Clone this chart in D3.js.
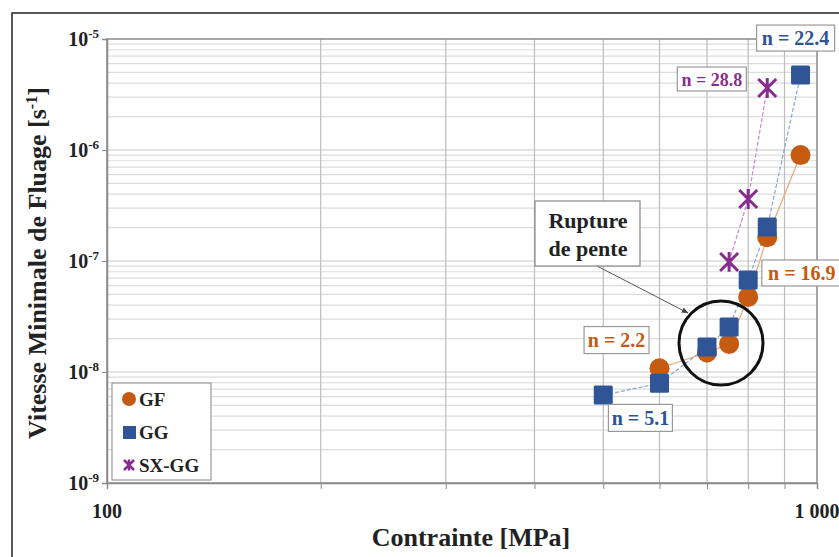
<!DOCTYPE html>
<html><head><meta charset="utf-8">
<script src="https://cdn.jsdelivr.net/npm/d3@7"></script>
<style>body{margin:0;background:#fff}svg{display:block}text{font-family:"Liberation Serif","Times New Roman",serif;font-weight:bold}</style>
</head><body><svg id="c" width="839" height="557"></svg>
<script>
// data
const gfStress = [600, 700, 752, 800, 851, 948];
const gfRate   = [1.08e-8, 1.5e-8, 1.79e-8, 4.74e-8, 1.64e-7, 9.0e-7];
const ggStress = [500, 600, 700, 752, 800, 851, 948];
const ggRate   = [6.2e-9, 7.9e-9, 1.68e-8, 2.54e-8, 6.75e-8, 2.02e-7, 4.74e-6];
const sxStress = [752, 800, 851];
const sxRate   = [9.8e-8, 3.62e-7, 3.62e-6];
const seriesNames = ["GF", "GG", "SX-GG"];
const yTickExp = [-5, -6, -7, -8, -9];
const xTickLabels = ["100", "1 000"];
const nLabels = ["n = 22.4", "n = 28.8", "n = 16.9", "n = 2.2", "n = 5.1"];
const nLabelX = [933, 711, 952, 522, 564];
const nLabelY = [1.02e-5, 4.36e-6, 7.8e-8, 1.94e-8, 3.86e-9];

const svg = d3.select("#c");
const L = 107, R = 817, T = 39, B = 483;
const x = d3.scaleLog().domain([100, 1000]).range([L, R]);
const y = d3.scaleLog().domain([1e-9, 1e-5]).range([B, T]);
const col = {GF: "#C55A11", GG: "#2F5597", SX: "#862D8E"};
const lineCol = {GF: "#EBA67A", GG: "#8AA4D6", SX: "#C689CC"};

// outer frame
svg.append("rect").attr("x", 12).attr("y", 13).attr("width", 900).attr("height", 700)
  .attr("fill", "none").attr("stroke", "#222").attr("stroke-width", 1.5);

// horizontal grid (minor)
const yGrid = [];
for (let e = -9; e < -5; e++) for (let m = 2; m <= 9; m++) yGrid.push(m * Math.pow(10, e));
svg.append("g").selectAll("line").data(yGrid).join("line")
  .attr("x1", L).attr("x2", R).attr("y1", d => y(d)).attr("y2", d => y(d))
  .attr("stroke", "#dcdcdc").attr("stroke-width", 1.2);
svg.append("g").selectAll("line").data([1e-8, 1e-7, 1e-6]).join("line")
  .attr("x1", L).attr("x2", R).attr("y1", d => y(d)).attr("y2", d => y(d))
  .attr("stroke", "#c8c8c8").attr("stroke-width", 1.2);
// vertical grid
const xGrid = [200, 300, 400, 500, 600, 700, 800, 900];
svg.append("g").selectAll("line").data(xGrid).join("line")
  .attr("x1", d => x(d)).attr("x2", d => x(d)).attr("y1", T).attr("y2", B)
  .attr("stroke", "#bdbdbd").attr("stroke-width", 1.2);

// plot frame
svg.append("rect").attr("x", L).attr("y", T).attr("width", R - L).attr("height", B - T)
  .attr("fill", "none").attr("stroke", "#8a8a8a").attr("stroke-width", 1.5);

// axes ticks
const xAxis = d3.axisBottom(x).tickValues([100, 200, 300, 400, 500, 600, 700, 800, 900, 1000])
  .tickSize(6).tickFormat("");
svg.append("g").attr("transform", `translate(0,${B})`).call(xAxis)
  .call(g => g.select(".domain").attr("stroke", "#8a8a8a").attr("stroke-width", 1.5))
  .call(g => g.selectAll(".tick line").attr("stroke", "#8a8a8a"));
const yAxis = d3.axisLeft(y).tickValues(yTickExp.map(e => Math.pow(10, e))).tickSize(5).tickFormat("");
svg.append("g").attr("transform", `translate(${L},0)`).call(yAxis)
  .call(g => g.select(".domain").attr("stroke", "#8a8a8a").attr("stroke-width", 1.5))
  .call(g => g.selectAll(".tick line").attr("stroke", "#8a8a8a"));

// y tick labels
yTickExp.forEach(e => {
  const t = svg.append("text").attr("x", 99).attr("y", y(Math.pow(10, e)) + 7)
    .attr("text-anchor", "end").attr("font-size", 20).attr("fill", "#222");
  t.append("tspan").text("10");
  t.append("tspan").attr("dy", -8).attr("font-size", 13).text(e);
});
// x tick labels
svg.append("text").attr("x", x(100)).attr("y", 518).attr("text-anchor", "middle")
  .attr("font-size", 20).attr("fill", "#222").text(xTickLabels[0]);
svg.append("text").attr("x", x(1000)).attr("y", 518).attr("text-anchor", "middle")
  .attr("font-size", 20).attr("fill", "#222").text(xTickLabels[1]);

// axis titles
svg.append("text").attr("x", 471).attr("y", 546).attr("text-anchor", "middle")
  .attr("font-size", 26).attr("fill", "#222").text("Contrainte [MPa]");
const yt = svg.append("text").attr("transform", "translate(46,263) rotate(-90)")
  .attr("text-anchor", "middle").attr("font-size", 26).attr("fill", "#222");
yt.append("tspan").text("Vitesse Minimale de Fluage [s");
yt.append("tspan").attr("dy", -9).attr("font-size", 16).text("-1");
yt.append("tspan").attr("dy", 9).text("]");

// series lines
const zip = (a, b) => a.map((v, i) => [v, b[i]]);
const line = d3.line().x(d => x(d[0])).y(d => y(d[1]));
svg.append("path").attr("d", line(zip(gfStress, gfRate))).attr("fill", "none")
  .attr("stroke", lineCol.GF).attr("stroke-width", 1.2);
svg.append("path").attr("d", line(zip(ggStress, ggRate))).attr("fill", "none")
  .attr("stroke", lineCol.GG).attr("stroke-width", 1.2).attr("stroke-dasharray", "4,2");
svg.append("path").attr("d", line(zip(sxStress, sxRate))).attr("fill", "none")
  .attr("stroke", lineCol.SX).attr("stroke-width", 1.2).attr("stroke-dasharray", "4,2");

// markers
svg.append("g").selectAll("circle").data(zip(gfStress, gfRate)).join("circle")
  .attr("cx", d => x(d[0])).attr("cy", d => y(d[1])).attr("r", 10).attr("fill", col.GF);
svg.append("g").selectAll("rect").data(zip(ggStress, ggRate)).join("rect")
  .attr("x", d => x(d[0]) - 9.5).attr("y", d => y(d[1]) - 9.5).attr("width", 19).attr("height", 19)
  .attr("rx", 1.5).attr("fill", col.GG);
const star = (g, cx, cy, s, w) => {
  g.append("path").attr("d",
    `M${cx - s},${cy - s}L${cx + s},${cy + s}M${cx - s},${cy + s}L${cx + s},${cy - s}M${cx},${cy - s * 1.1}L${cx},${cy + s * 1.1}`)
    .attr("stroke", col.SX).attr("stroke-width", w).attr("fill", "none");
};
const sg = svg.append("g");
zip(sxStress, sxRate).forEach(d => star(sg, x(d[0]), y(d[1]), 9, 3));

// n labels
const nCol = [col.GG, col.SX, col.GF, col.GF, col.GG];
const nW = [78, 69, 80, 65, 64], nH = [26, 24, 26, 27, 27], nFs = [20, 18, 20, 20, 20];
const nWeight = ["bold", "normal", "bold", "bold", "bold"];
nLabels.forEach((t, i) => {
  const cx = x(nLabelX[i]), cy = y(nLabelY[i]);
  svg.append("rect").attr("x", cx - nW[i] / 2).attr("y", cy - nH[i] / 2).attr("width", nW[i]).attr("height", nH[i])
    .attr("fill", "#fff").attr("stroke", "#999").attr("stroke-width", 1.2);
  svg.append("text").attr("x", cx).attr("y", cy + 7).attr("text-anchor", "middle")
    .attr("font-size", nFs[i]).attr("font-weight", nWeight[i]).attr("fill", nCol[i]).text(t);
});

// Rupture de pente annotation
const circX = 721, circY = 343;
const cxv = x.invert(circX), cyv = y.invert(circY);
svg.append("defs").append("marker").attr("id", "ah").attr("viewBox", "0 0 10 10").attr("refX", 9).attr("refY", 5)
  .attr("markerWidth", 7).attr("markerHeight", 7).attr("orient", "auto")
  .append("path").attr("d", "M0,1L10,5L0,9z").attr("fill", "#444");
svg.append("line").attr("x1", 597).attr("y1", 266).attr("x2", 688).attr("y2", 313)
  .attr("stroke", "#555").attr("stroke-width", 1).attr("marker-end", "url(#ah)");
svg.append("circle").attr("cx", x(cxv)).attr("cy", y(cyv)).attr("r", 42)
  .attr("fill", "none").attr("stroke", "#111").attr("stroke-width", 3);
svg.append("rect").attr("x", 535).attr("y", 201).attr("width", 105).attr("height", 65)
  .attr("fill", "#fff").attr("stroke", "#888").attr("stroke-width", 1.2);
svg.append("text").attr("x", 588).attr("y", 228).attr("text-anchor", "middle").attr("font-size", 22)
  .attr("fill", "#222").text("Rupture");
svg.append("text").attr("x", 588).attr("y", 256).attr("text-anchor", "middle").attr("font-size", 22)
  .attr("fill", "#222").text("de pente");

// legend
svg.append("rect").attr("x", 112).attr("y", 383).attr("width", 99).attr("height", 97)
  .attr("fill", "#fff").attr("stroke", "#999").attr("stroke-width", 1.2);
const ly = [399, 432, 465];
svg.append("circle").attr("cx", 129).attr("cy", ly[0]).attr("r", 7).attr("fill", col.GF);
svg.append("rect").attr("x", 123).attr("y", ly[1] - 6).attr("width", 13).attr("height", 13).attr("fill", col.GG);
const lg = svg.append("g");
star(lg, 129, ly[2], 5, 2.5);
seriesNames.forEach((n, i) => {
  svg.append("text").attr("x", 139).attr("y", ly[i] + 7).attr("font-size", 19).attr("fill", "#222").text(n);
});
</script></body></html>
